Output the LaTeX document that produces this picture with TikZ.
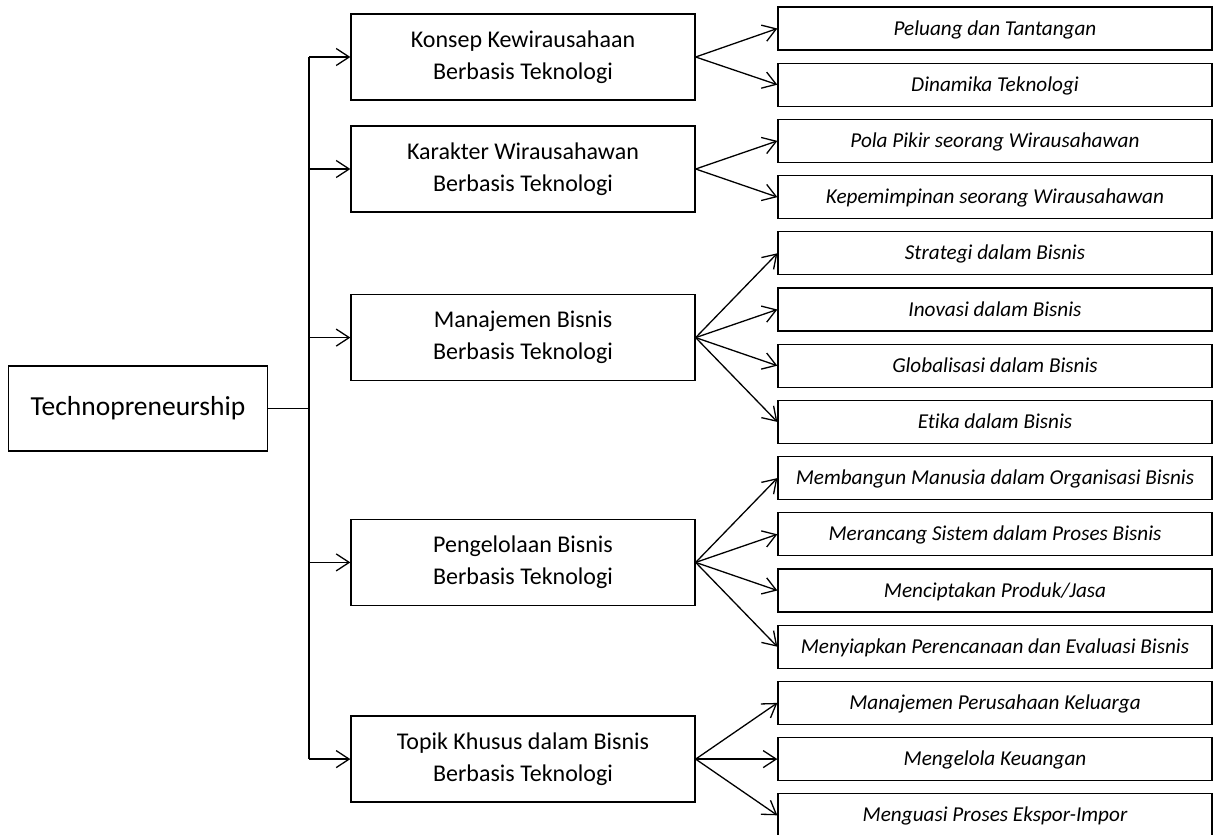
\documentclass[tikz,border=0pt]{standalone}
\usepackage{fontspec}
\setmainfont{Carlito}[Ligatures=NoCommon]
\usetikzlibrary{arrows.meta}

\begin{document}
\begin{tikzpicture}[x=1pt, y=-1pt, line width=1.3pt,
    rootbox/.style={draw, minimum width=259pt, minimum height=85pt, inner sep=0pt, font=\fontsize{27.5}{33}\selectfont},
    topicbox/.style={draw, align=center, minimum width=344pt, minimum height=86pt, inner sep=0pt, font=\fontsize{24}{32}\selectfont},
    subbox/.style={draw, minimum width=434pt, minimum height=43pt, inner sep=0pt, text height=17pt, text depth=4pt, font=\fontsize{21.2}{25}\selectfont\itshape},
    link/.style={-{Straight Barb[length=13pt,width=17pt]}}]

\useasboundingbox (0,0) rectangle (1213,835);

\node[rootbox] (root) at (138,408.5) {Technopreneurship};

\node[topicbox] (konsep) at (523,57) {Konsep Kewirausahaan\\Berbasis Teknologi};
\node[topicbox] (karakter) at (523,169) {Karakter Wirausahawan\\Berbasis Teknologi};
\node[topicbox] (manajemen) at (523,337.6) {Manajemen Bisnis\\Berbasis Teknologi};
\node[topicbox] (pengelolaan) at (523,562.4) {Pengelolaan Bisnis\\Berbasis Teknologi};
\node[topicbox] (topik) at (523,759.1) {Topik Khusus dalam Bisnis\\Berbasis Teknologi};

\node[subbox] (peluang) at (995,28.5) {Peluang dan Tantangan};
\node[subbox] (dinamika) at (995,84.7) {Dinamika Teknologi};
\node[subbox] (polapikir) at (995,140.9) {Pola Pikir seorang Wirausahawan};
\node[subbox] (pemimpin) at (995,197.1) {Kepemimpinan seorang Wirausahawan};
\node[subbox] (strategi) at (995,253.3) {Strategi dalam Bisnis};
\node[subbox] (inovasi) at (995,309.5) {Inovasi dalam Bisnis};
\node[subbox] (global) at (995,365.7) {Globalisasi dalam Bisnis};
\node[subbox] (etika) at (995,421.9) {Etika dalam Bisnis};
\node[subbox] (manusia) at (995,478.1) {Membangun Manusia dalam Organisasi Bisnis};
\node[subbox] (sistem) at (995,534.3) {Merancang Sistem dalam Proses Bisnis};
\node[subbox] (produk) at (995,590.5) {Menciptakan Produk/Jasa};
\node[subbox] (evaluasi) at (995,646.7) {Menyiapkan Perencanaan dan Evaluasi Bisnis};
\node[subbox] (keluarga) at (995,702.9) {Manajemen Perusahaan Keluarga};
\node[subbox] (keuangan) at (995,759.1) {Mengelola Keuangan};
\node[subbox] (ekspor) at (995,815.3) {Menguasi Proses Ekspor-Impor};

% trunk from the root to the topics
\coordinate (trunk) at (309,408.5);
\draw (root.east) -- (trunk);
\draw (konsep.west -| trunk) -- (topik.west -| trunk);
\draw[link] (konsep.west -| trunk) -- (konsep.west);
\draw[link] (karakter.west -| trunk) -- (karakter.west);
\draw[link] (manajemen.west -| trunk) -- (manajemen.west);
\draw[link] (pengelolaan.west -| trunk) -- (pengelolaan.west);
\draw[link] (topik.west -| trunk) -- (topik.west);

% topics to subtopics
\draw[link] (konsep.east) -- (peluang.west);
\draw[link] (konsep.east) -- (dinamika.west);

\draw[link] (karakter.east) -- (polapikir.west);
\draw[link] (karakter.east) -- (pemimpin.west);

\draw[link] (manajemen.east) -- (strategi.west);
\draw[link] (manajemen.east) -- (inovasi.west);
\draw[link] (manajemen.east) -- (global.west);
\draw[link] (manajemen.east) -- (etika.west);

\draw[link] (pengelolaan.east) -- (manusia.west);
\draw[link] (pengelolaan.east) -- (sistem.west);
\draw[link] (pengelolaan.east) -- (produk.west);
\draw[link] (pengelolaan.east) -- (evaluasi.west);

\draw[link] (topik.east) -- (keluarga.west);
\draw[link] (topik.east) -- (keuangan.west);
\draw[link] (topik.east) -- (ekspor.west);

\end{tikzpicture}
\end{document}
